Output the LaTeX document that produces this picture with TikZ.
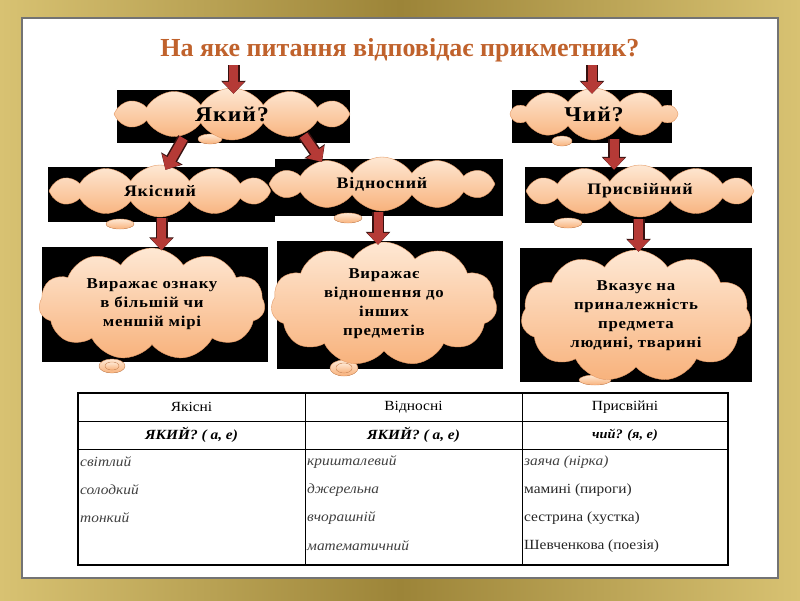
\documentclass[tikz,border=0pt]{standalone}
\usepackage{fontspec}
\setmainfont{Liberation Serif}
\newfontfamily\cloudfont[LetterSpace=5,FakeStretch=1.12]{Liberation Serif}
\newfontfamily\tablefont[FakeStretch=1.1]{Liberation Serif}
\usetikzlibrary{shapes.symbols,arrows.meta,positioning}
\definecolor{goldl}{HTML}{D8C272}
\definecolor{goldd}{HTML}{9C8438}
\definecolor{titlecol}{HTML}{C0622C}
\definecolor{arrred}{HTML}{B53A36}
\definecolor{cloudtop}{HTML}{FEE8D4}
\definecolor{cloudbot}{HTML}{F8B27C}
\definecolor{cloudedge}{HTML}{E49A66}
\begin{document}
\begin{tikzpicture}[x=1pt,y=-1pt]
    \tikzstyle{bbox}=[fill=black, inner sep=0pt]
    \tikzstyle{cnode}=[cloud, cloud puffs=12, cloud puff arc=115, cloud ignores aspect, draw=cloudedge, top color=cloudtop, bottom color=cloudbot, inner sep=0pt, align=center, font=\cloudfont\bfseries\fontsize{16}{19}\selectfont]
    \tikzstyle{tail}=[draw=cloudedge, top color=cloudtop, bottom color=cloudbot]
    \tikzstyle{rarr}=[line width=9pt, draw=arrred, -{Triangle[length=12pt,width=21pt]}, preaction={draw=black!70!arrred, line width=12pt, -{Triangle[length=13pt,width=24pt]}}]
    \tikzstyle{tcell}=[inner sep=1pt, font=\tablefont\fontsize{14}{16}\selectfont]

    \useasboundingbox (0,0) rectangle (800,600);
    \fill[left color=goldl, right color=goldl, middle color=goldd] (0,0) rectangle (800,600);
    \draw[black!55, line width=2.5pt, fill=white] (22,18) rectangle (778,578);

    \node[font=\bfseries\fontsize{26}{28}\selectfont, text=titlecol] (title) at (400,50) {На яке питання відповідає прикметник?};

    % black boxes
    \node[bbox, minimum width=233pt, minimum height=53pt] (whichbox) at (233.5,116.5) {};
    \node[bbox, minimum width=160pt, minimum height=53pt] (whosebox) at (592,116.5) {};
    \node[bbox, minimum width=227pt, minimum height=55pt] (qualbox) at (161.5,194.5) {};
    \node[bbox, minimum width=228pt, minimum height=57pt] (relbox) at (389,187.5) {};
    \node[bbox, minimum width=227pt, minimum height=56pt] (possbox) at (638.5,195) {};
    \node[bbox, minimum width=226pt, minimum height=115pt] (qualdescbox) at (155,304) {};
    \node[bbox, minimum width=226pt, minimum height=128pt] (reldescbox) at (389.5,305) {};
    \node[bbox, minimum width=232pt, minimum height=134pt] (possdescbox) at (636,315) {};

    % tails
    \fill[tail] (210,139) ellipse (12pt and 5pt);
    \fill[tail] (562,141) ellipse (10pt and 5pt);
    \fill[tail] (120,224) ellipse (14pt and 5pt);
    \fill[tail] (348,218) ellipse (14pt and 5pt);
    \fill[tail] (568,223) ellipse (14pt and 5pt);
    \fill[tail] (112,366) ellipse (13pt and 7pt);
    \fill[tail] (112,366) ellipse (7pt and 4pt);
    \fill[tail] (344,368) ellipse (14pt and 8pt);
    \fill[tail] (344,368) ellipse (8pt and 5pt);
    \fill[tail] (595,380) ellipse (16pt and 5pt);

    % clouds
    \node[cnode, minimum width=236pt, minimum height=52pt, font=\cloudfont\bfseries\fontsize{21}{24}\selectfont] (which) at (232,114) {Який?};
    \node[cnode, minimum width=164pt, minimum height=52pt, cloud puffs=10, font=\cloudfont\bfseries\fontsize{21}{24}\selectfont] (whose) at (594,114) {Чий?};
    \node[cnode, minimum width=222pt, minimum height=52pt] (qual) at (160,191) {Якісний};
    \node[cnode, minimum width=226pt, minimum height=54pt] (rel) at (382,184) {Відносний};
    \node[cnode, minimum width=228pt, minimum height=52pt] (poss) at (640,191) {Присвійний};
    \node[cnode, minimum width=226pt, minimum height=112pt, cloud puffs=11, font=\cloudfont\bfseries\fontsize{15}{19}\selectfont] (qualdesc) at (152,304) {Виражає ознаку\\в більшій чи\\меншій мірі};
    \node[cnode, minimum width=226pt, minimum height=124pt, cloud puffs=11, font=\cloudfont\bfseries\fontsize{15}{19}\selectfont] (reldesc) at (384,304) {Виражає\\відношення до\\інших\\предметів};
    \node[cnode, minimum width=230pt, minimum height=132pt, cloud puffs=11, font=\cloudfont\bfseries\fontsize{15}{19}\selectfont] (possdesc) at (636,316) {Вказує на\\приналежність\\предмета\\людині, тварині};

    % arrows
    \draw[rarr] (title.south -| whichbox) -- ([yshift=-4pt]whichbox.north);
    \draw[rarr] (title.south -| whosebox) -- ([yshift=-4pt]whosebox.north);
    \draw[rarr] ([xshift=-50pt,yshift=5pt]whichbox.south) -- ([xshift=4pt,yshift=-3pt]qualbox.north);
    \draw[rarr] ([xshift=70pt,yshift=8pt]whichbox.south) -- ([xshift=-67pt,yshift=-3pt]relbox.north);
    \coordinate (c1) at ([xshift=22pt,yshift=4pt]whosebox.south);
    \draw[rarr] (c1) -- ([yshift=-3pt]c1 |- possbox.north);
    \coordinate (c2) at ([yshift=4pt]qualbox.south);
    \draw[rarr] (c2) -- ([yshift=-4pt]c2 |- qualdescbox.north);
    \coordinate (c3) at ([xshift=-11pt,yshift=4pt]relbox.south);
    \draw[rarr] (c3) -- ([yshift=-4pt]c3 |- reldescbox.north);
    \coordinate (c4) at ([yshift=4pt]possbox.south);
    \draw[rarr] (c4) -- ([yshift=-4pt]c4 |- possdescbox.north);

    % table
    \draw[line width=1.2pt] (78,393) rectangle (728,565);
    \draw[line width=0.8pt] (305,393) -- (305,565) (522,393) -- (522,565)
        (78,421) -- (728,421) (78,449) -- (728,449);
    \node[tcell] (h1) at (191.5,407) {Якісні};
    \node[tcell] (h2) at (413.5,407) {Відносні};
    \node[tcell] (h3) at (625,407) {Присвійні};
    \node[tcell, font=\tablefont\bfseries\itshape\fontsize{14}{16}\selectfont] (q1) at (191.5,435) {ЯКИЙ? ( а, е)};
    \node[tcell, font=\tablefont\bfseries\itshape\fontsize{14}{16}\selectfont] (q2) at (413.5,435) {ЯКИЙ? ( а, е)};
    \node[tcell, font=\tablefont\bfseries\itshape\fontsize{13}{16}\selectfont] (q3) at (625,435) {чий? (я, е)};
    \foreach \w [count=\i] in {світлий, солодкий, тонкий}
        \node[tcell, anchor=west, text=black!75, font=\tablefont\itshape\fontsize{14}{16}\selectfont] (a\i) at (79,462+28*\i-28) {\w};
    \foreach \w [count=\i] in {кришталевий, джерельна, вчорашній, математичний}
        \node[tcell, anchor=west, text=black!75, font=\tablefont\itshape\fontsize{14}{16}\selectfont] (b\i) at (306,462+28*\i-28) {\w};
    \node[tcell, anchor=west, text=black!75, font=\tablefont\itshape\fontsize{14}{16}\selectfont] (c1t) at (523,462) {заяча (нірка)};
    \foreach \w [count=\i] in {мамині (пироги), сестрина (хустка), Шевченкова (поезія)}
        \node[tcell, anchor=west, text=black!85] (d\i) at (523,490+28*\i-28) {\w};
\end{tikzpicture}
\end{document}
